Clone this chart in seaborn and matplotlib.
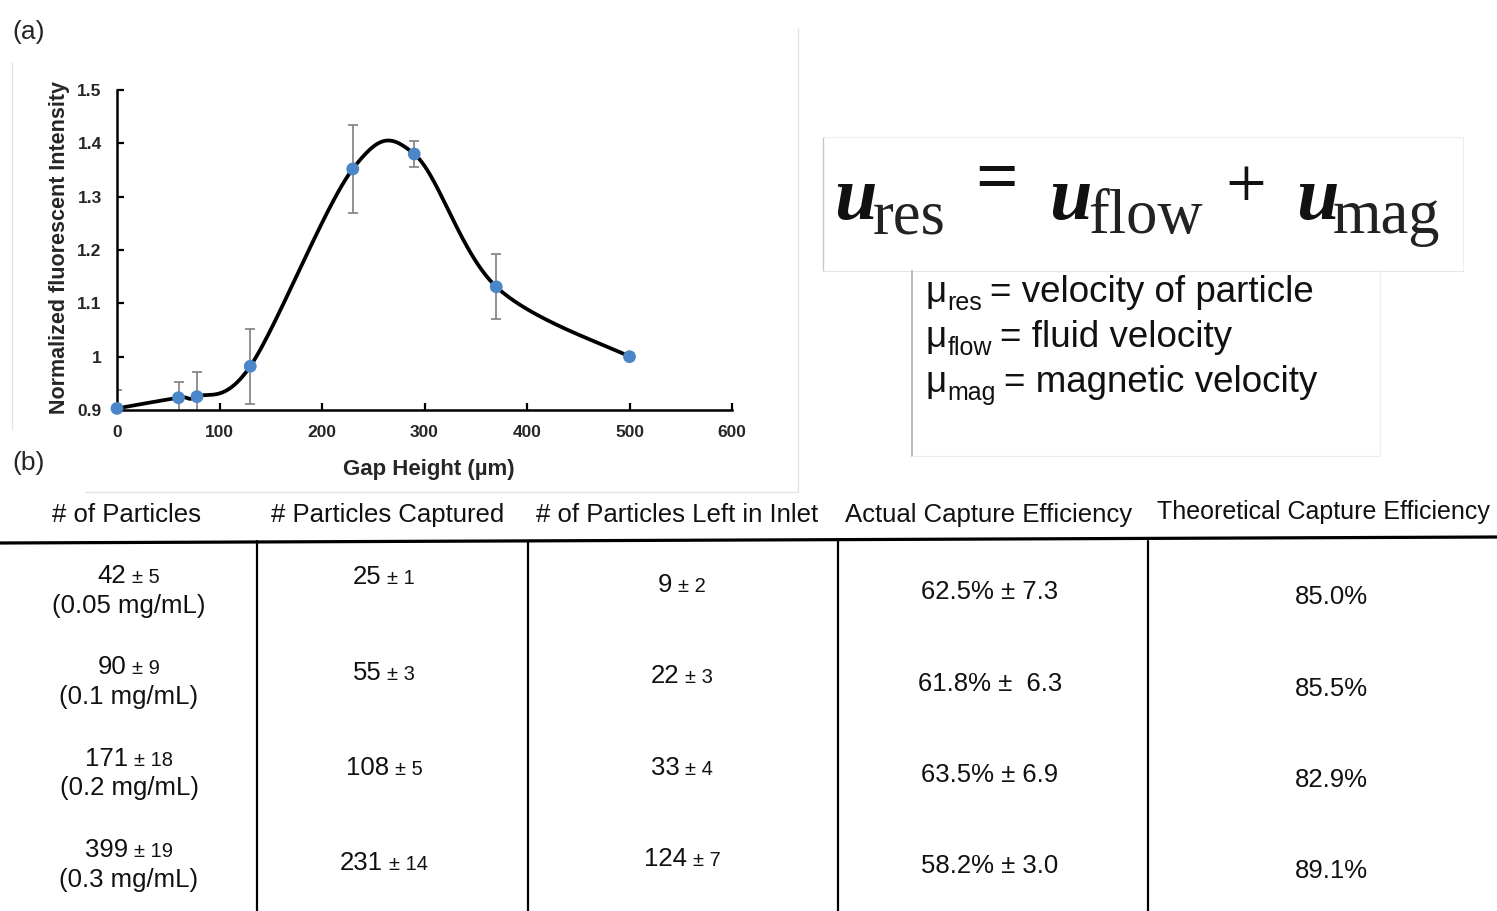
import numpy as np
import pandas as pd
import matplotlib
matplotlib.use("Agg")
import matplotlib.pyplot as plt
import seaborn as sns
from matplotlib import font_manager
from matplotlib.ticker import FixedLocator

# ---------------- data ----------------
gap_height = [0, 60, 78, 130, 230, 290, 370, 500]
intensity = [0.903, 0.923, 0.925, 0.982, 1.352, 1.380, 1.131, 1.000]
intensity_err = [0.035, 0.030, 0.046, 0.070, 0.082, 0.024, 0.061, 0.0]

x_ticks = [0, 100, 200, 300, 400, 500, 600]
y_ticks = [0.9, 1.0, 1.1, 1.2, 1.3, 1.4, 1.5]
y_tick_labels = ["0.9", "1", "1.1", "1.2", "1.3", "1.4", "1.5"]

table_headers = ["# of Particles", "# Particles Captured",
                 "# of Particles Left in Inlet", "Actual Capture Efficiency",
                 "Theoretical Capture Efficiency"]
particles_mean = [42, 90, 171, 399]
particles_sd = [5, 9, 18, 19]
concentration = ["0.05", "0.1", "0.2", "0.3"]
captured_mean = [25, 55, 108, 231]
captured_sd = [1, 3, 5, 14]
left_mean = [9, 22, 33, 124]
left_sd = [2, 3, 4, 7]
actual_eff = ["62.5% ± 7.3", "61.8% ±  6.3", "63.5% ± 6.9", "58.2% ± 3.0"]
theoretical_eff = ["85.0%", "85.5%", "82.9%", "89.1%"]

definitions = [("res", "velocity of particle"),
               ("flow", "fluid velocity"),
               ("mag", "magnetic velocity")]

# ---------------- style ----------------
sns.set_theme(style="ticks")
plt.rcParams["font.family"] = ["Liberation Sans", "DejaVu Sans"]

available = {f.name for f in font_manager.fontManager.ttflist}
if "Liberation Sans Narrow" in available:
    table_font, table_size, table_small, head5_size = "Liberation Sans Narrow", 22, 17.5, 21.5
else:
    table_font, table_size, table_small, head5_size = "Liberation Sans", 18.5, 14.5, 18

W, H = 1497, 911
fig = plt.figure(figsize=(W / 100, H / 100), dpi=100)
fig.patch.set_facecolor("white")

# full-figure overlay in pixel coordinates for the text panels and table
canvas = fig.add_axes([0, 0, 1, 1])
canvas.set_xlim(0, W)
canvas.set_ylim(H, 0)
canvas.axis("off")
canvas.patch.set_alpha(0)

renderer = fig.canvas.get_renderer()


def draw_runs(ax, x, y, pieces, ha="left"):
    """Draw consecutive text runs on a common baseline.
    pieces: list of (text, fontsize, dy, gap_before, extra_kw)."""
    arts, widths = [], []
    for text, size, dy, gap, kw in pieces:
        t = ax.text(0, y + dy, text, fontsize=size, va="baseline", ha="left", **kw)
        bb = t.get_window_extent(renderer)
        arts.append(t)
        widths.append(bb.width)
    total = sum(widths) + sum(p[3] for p in pieces)
    cur = x - total / 2 if ha == "center" else x
    for t, w, p in zip(arts, widths, pieces):
        cur += p[3]
        t.set_x(cur)
        cur += w
    return arts


# ---------------- (a) chart ----------------
ax = fig.add_axes([117 / W, 1 - 410 / H, 615 / W, 320 / H])
ax.set_xlim(0, 600)
ax.set_ylim(0.9, 1.5)


def excel_smooth(xs, ys, sx, sy, n=50):
    P = np.column_stack([np.asarray(xs, float) * sx, np.asarray(ys, float) * sy])
    segs = []
    for i in range(len(P) - 1):
        p0, p3 = P[i], P[i + 1]
        prev = P[i - 1] if i > 0 else P[i]
        nxt = P[i + 2] if i + 2 < len(P) else P[i + 1]
        c1 = p0 + (p3 - prev) / 6.0
        c2 = p3 - (nxt - p0) / 6.0
        t = np.linspace(0, 1, n, endpoint=(i == len(P) - 2))[:, None]
        segs.append((1 - t) ** 3 * p0 + 3 * (1 - t) ** 2 * t * c1
                    + 3 * (1 - t) * t ** 2 * c2 + t ** 3 * p3)
    pts = np.vstack(segs)
    return pts[:, 0] / sx, pts[:, 1] / sy


cx, cy = excel_smooth(gap_height, intensity, 615 / 600, 320 / 0.6)
curve = pd.DataFrame({"gap": cx, "value": cy})
points = pd.DataFrame({"gap": gap_height, "value": intensity})

ax.errorbar(gap_height, intensity, yerr=intensity_err, fmt="none",
            ecolor="#7f7f7f", elinewidth=1.2, capsize=3.5, capthick=1.2, zorder=2)
sns.lineplot(data=curve, x="gap", y="value", sort=False, estimator=None,
             color="black", linewidth=2.7, ax=ax, zorder=3)
sns.scatterplot(data=points, x="gap", y="value", s=85, color="#4a86c8",
                edgecolor="none", ax=ax, zorder=4, clip_on=False)

ax.xaxis.set_major_locator(FixedLocator(x_ticks))
ax.yaxis.set_major_locator(FixedLocator(y_ticks))
ax.set_xticklabels([str(v) for v in x_ticks])
ax.set_yticklabels(y_tick_labels)
for lab in ax.get_xticklabels() + ax.get_yticklabels():
    lab.set_fontweight("bold")
    lab.set_fontsize(12.5)
ax.tick_params(axis="both", direction="in", length=5, width=1.6, color="black")
ax.tick_params(axis="x", pad=11)
ax.tick_params(axis="y", pad=11)
for side in ("top", "right"):
    ax.spines[side].set_visible(False)
for side in ("left", "bottom"):
    ax.spines[side].set_linewidth(1.8)
    ax.spines[side].set_color("black")
ax.set_xlabel("Gap Height (µm)", fontsize=16, fontweight="bold")
ax.set_ylabel("Normalized fluorescent Intensity", fontsize=15.5, fontweight="bold")
ax.xaxis.set_label_coords((429 - 117) / 615, -(469 - 410) / 320)
ax.yaxis.set_label_coords(-(117 - 60) / 615, (410 - 247) / 320)
ax.xaxis.label.set_va("center")
ax.yaxis.label.set_va("center")
ax.patch.set_alpha(0)

# faint frame lines around the chart panel
frame_kw = dict(color="#e4e4e4", lw=0.9, zorder=0)
canvas.plot([798, 798], [28, 492], **frame_kw)
canvas.plot([85, 798], [492, 492], **frame_kw)
canvas.plot([12, 12], [62, 430], **frame_kw)

# panel letters
canvas.text(29, 32, "(a)", fontsize=19, ha="center", va="center")
canvas.text(29, 463, "(b)", fontsize=19, ha="center", va="center")

# ---------------- equation panel ----------------
canvas.plot([823, 823], [137, 271], color="#c8c8c8", lw=1.0)
canvas.plot([823, 1463], [137, 137], color="#eeeeee", lw=0.8)
canvas.plot([1463, 1463], [137, 271], color="#eeeeee", lw=0.8)
canvas.plot([823, 1463], [271, 271], color="#e6e6e6", lw=0.8)
canvas.plot([912, 912], [271, 456], color="#b4b4b4", lw=1.3)
canvas.plot([912, 1380], [456, 456], color="#ececec", lw=0.9)
canvas.plot([1380, 1380], [271, 456], color="#f0f0f0", lw=0.9)

serif = dict(family=["Liberation Serif", "DejaVu Serif"])
u_kw = dict(family=["Liberation Serif", "DejaVu Serif"], fontweight="bold",
            fontstyle="italic", color="#111111")
sub_kw = dict(color="#222222", **serif)
eq_parts = [("u", 834, 219, 55, u_kw), ("res", 873, 233, 45, sub_kw),
            ("u", 1049, 219, 55, u_kw), ("flow", 1088, 233, 45, sub_kw),
            ("u", 1296, 219, 55, u_kw), ("mag", 1333, 233, 45, sub_kw)]
for text, x, y, size, kw in eq_parts:
    canvas.text(x, y, text, fontsize=size, ha="left", va="baseline", **kw)
canvas.text(997, 183, "=", fontsize=54, ha="center", va="center",
            color="#111111", fontweight="bold", **serif)
canvas.text(1246, 190, "+", fontsize=52, ha="center", va="center",
            color="#111111", **serif)

# symbol definitions
def_kw = dict(color="#111111")
for i, (sub, meaning) in enumerate(definitions):
    base = 302 + 45 * i
    draw_runs(canvas, 925, base, [
        ("μ", 26.5, 0, 0, def_kw),
        (sub, 18, 8, 1, def_kw),
        ("= " + meaning, 26.5, 0, 8, def_kw),
    ])

# ---------------- (b) table ----------------
canvas.plot([0, W], [543, 537], color="black", lw=2.3, solid_capstyle="butt")
for x in (257, 528, 838, 1148):
    canvas.plot([x, x], [541, H], color="black", lw=1.6)

tkw = dict(family=[table_font, "DejaVu Sans"], color="#111111")
header_x = [127, 388, 677, 989]
for x, h in zip(header_x, table_headers[:4]):
    canvas.text(x, 522, h, fontsize=table_size, ha="center", va="baseline", **tkw)
canvas.text(1157, 519, table_headers[4], fontsize=head5_size, ha="left",
            va="baseline", **tkw)

col1_l1 = [583, 674, 766, 857]
col1_l2 = [613, 704, 795, 887]
col2_y = [584, 680, 775, 870]
col3_y = [592, 683, 775, 866]
col4_y = [599, 691, 782, 873]
col5_y = [604, 696, 787, 878]

for r in range(4):
    draw_runs(canvas, 129, col1_l1[r], [
        (str(particles_mean[r]), table_size, 0, 0, tkw),
        (f"± {particles_sd[r]}", table_small, 0, 6, tkw)], ha="center")
    canvas.text(129, col1_l2[r], f"({concentration[r]} mg/mL)",
                fontsize=table_size, ha="center", va="baseline", **tkw)
    draw_runs(canvas, 384, col2_y[r], [
        (str(captured_mean[r]), table_size, 0, 0, tkw),
        (f"± {captured_sd[r]}", table_small, 0, 6, tkw)], ha="center")
    draw_runs(canvas, 682, col3_y[r], [
        (str(left_mean[r]), table_size, 0, 0, tkw),
        (f"± {left_sd[r]}", table_small, 0, 6, tkw)], ha="center")
    canvas.text(990, col4_y[r], actual_eff[r], fontsize=table_size,
                ha="center", va="baseline", **tkw)
    canvas.text(1331, col5_y[r], theoretical_eff[r], fontsize=table_size,
                ha="center", va="baseline", **tkw)

fig.savefig("out.png", dpi=100, facecolor="white")
